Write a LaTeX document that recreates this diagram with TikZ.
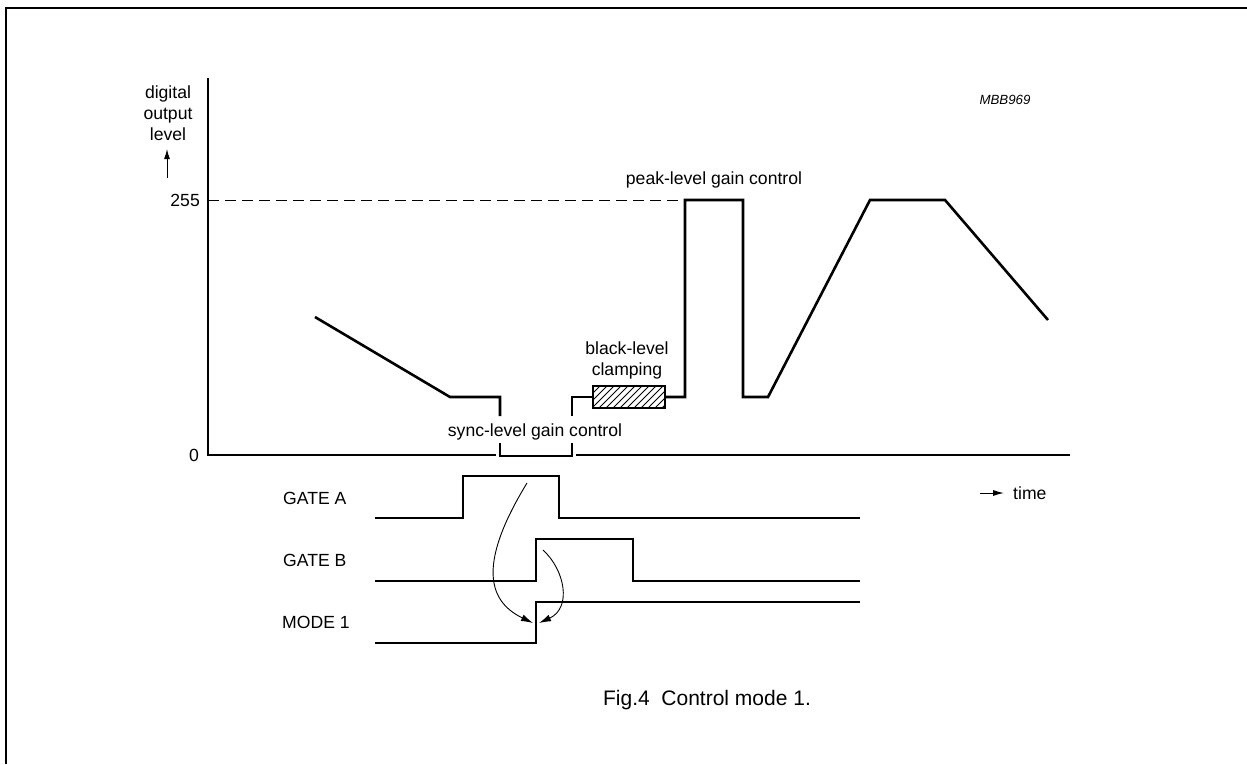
\documentclass[tikz,border=0pt]{standalone}
\usepackage{fontspec}
\setmainfont{Liberation Sans}
\usetikzlibrary{arrows.meta}
\begin{document}
\begin{tikzpicture}[x=1pt,y=-1pt,
  lbl/.style={font=\fontsize{17.6}{21}\selectfont, inner sep=0pt},
  wave/.style={line width=2.6pt, line join=miter},
  ax/.style={line width=1.4pt},
  thinarrow/.style={line width=0.9pt, -{Latex[length=12pt,width=7pt]}}]
\useasboundingbox (0,0) rectangle (1247,764);
% frame
\draw[line width=2pt] (6,764) -- (6,8) -- (1247,8);
% axes
\draw[ax] (208,78) -- (208,455) -- (496,455);
\draw[ax] (576,455) -- (1070,455);
\draw[line width=1pt, dash pattern=on 11pt off 6pt] (208,200) -- (685,200);
% waveform
\draw[wave] (315,317) -- (450,397) -- (500,397) -- (500,416);
\draw[wave] (500,443) -- (500,456) -- (572,456) -- (572,443);
\draw[wave] (572,416) -- (572,397) -- (593,397);
\begin{scope}
  \clip (593,386) rectangle (665,408);
  \foreach \i in {0,7,...,105} \draw[line width=0.8pt] ({593+\i-22},408) -- ({593+\i},386);
\end{scope}
\draw[line width=2.4pt] (593,386) rectangle (665,408);
\draw[wave] (665,397) -- (685,397) -- (685,200) -- (743,200) -- (743,397) -- (768,397) -- (870,200) -- (945,200) -- (1048,320);
% axis labels
\node[lbl, anchor=east] (l255) at (200,200) {255};
\node[lbl, anchor=east] (l0) at (199,455) {0};
\node[lbl, align=center] (ylab) at (168,113) {digital\\output\\level};
\coordinate (ya0) at (167,178);
\coordinate (ya1) at (167,149);
\draw[line width=1pt, -{Latex[length=10pt,width=6pt]}] (ya0) -- (ya1);
\node[lbl] (peak) at (714,180) {peak-level gain control};
\node[lbl, align=center] (black) at (627,360) {black-level\\clamping};
\node[lbl, fill=white, inner sep=2pt] (sync) at (535,432) {sync-level gain control};
\node[font=\fontsize{13.3}{16}\selectfont\itshape, inner sep=0pt] (code) at (1005,100) {MBB969};
% time
\coordinate (t0) at (980,493);
\node[lbl, anchor=west] (time) at (1013,493) {time};
\draw[line width=1pt, -{Latex[length=11pt,width=6pt]}] (t0) -- (1004,493);
% gate signals
\node[lbl, anchor=west] (ga) at (283,498) {GATE A};
\node[lbl, anchor=west] (gb) at (283,560) {GATE B};
\node[lbl, anchor=west] (m1) at (282,622) {MODE 1};
\draw[wave] (375,518) -- (463,518) -- (463,476) -- (559,476) -- (559,518) -- (860,518);
\draw[wave] (375,581) -- (536,581) -- (536,539) -- (633,539) -- (633,581) -- (860,581);
\draw[wave] (375,643) -- (536,643) -- (536,602) -- (860,602);
% curved arrows
\coordinate (sa) at (527,483);
\coordinate (sb) at (543,550);
\coordinate (ea) at (533,623);
\coordinate (eb) at (539,623);
\draw[thinarrow] (sa) .. controls (480,560) and (485,600) .. (ea);
\draw[thinarrow] (sb) .. controls (565,570) and (572,608) .. (eb);
% caption
\node[font=\fontsize{21}{25}\selectfont, inner sep=0pt] (cap) at (707,700) {Fig.4\ \ Control mode 1.};
\end{tikzpicture}
\end{document}
